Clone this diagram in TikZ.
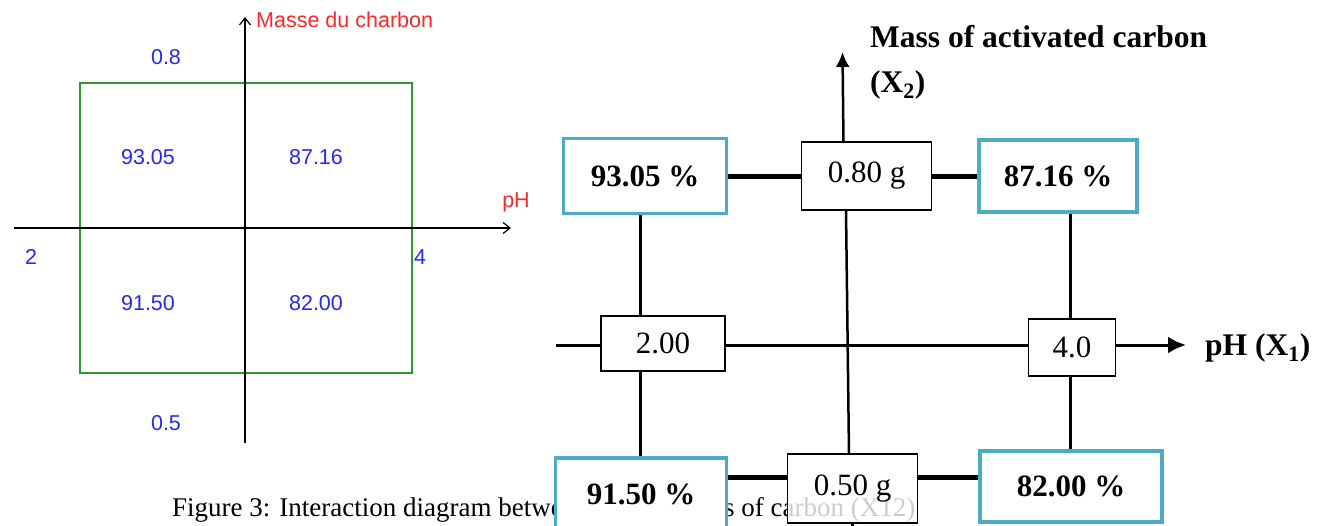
\documentclass[tikz,border=0pt]{standalone}
\usepackage{fontspec}
\setmainfont{Liberation Serif}
\newfontfamily\winsans{Liberation Sans}
\usepackage{tikz}
\usetikzlibrary{positioning}
\usetikzlibrary{arrows.meta}

\definecolor{plotblue}{RGB}{40,40,240}
\definecolor{plotred}{RGB}{250,40,40}
\definecolor{plotgreen}{RGB}{50,150,50}
\definecolor{boxcyan}{RGB}{75,172,198}

\tikzset{
  val/.style={font=\winsans\fontsize{21.5}{24}\selectfont, text=plotblue, inner sep=0pt},
  axname/.style={font=\winsans\fontsize{21.5}{24}\selectfont, text=plotred, inner sep=0pt},
  resp/.style={draw=boxcyan, line width=3.5pt, fill=white, inner sep=0pt,
    font=\bfseries\fontsize{31}{34}\selectfont},
  level/.style={draw=black, line width=1.2pt, fill=white, inner sep=0pt,
    font=\fontsize{31}{34}\selectfont},
  axlab/.style={anchor=west, inner sep=0pt, font=\bfseries\fontsize{31.5}{34}\selectfont},
  link/.style={line width=5pt},
  leg/.style={line width=3pt},
}

\begin{document}
\begin{tikzpicture}[x=1pt,y=-1pt]
	\clip (0,0) rectangle (1325,525);
	\fill[white] (0,0) rectangle (1325,525);

	% left: software plot
	\coordinate (hl) at (14,228);
	\coordinate (hr) at (511,228);
	\coordinate (vb) at (245,443);
	\coordinate (vt) at (245,17);
	\draw[plotgreen, line width=2pt] (79.5,83) rectangle (411.5,373);
	\draw[line width=2pt, -{Straight Barb[length=7pt,width=11pt,line width=1.2pt]}] (hl) -- (hr);
	\draw[line width=2pt, -{Straight Barb[length=7pt,width=11pt,line width=1.2pt]}] (vb) -- (vt);

	\node[axname, anchor=west] (massfr) at (256,20) {Masse du charbon};
	\node[axname] (phfr) at (516,202) {pH};
	\node[val] (mhigh) at (166,57) {0.8};
	\node[val] (mlow) at (166,423) {0.5};
	\node[val] (phlow) at (31,257) {2};
	\node[val] (phhigh) at (420,257) {4};
	\node[val] (r11) at (148,157) {93.05};
	\node[val] (r21) at (316,157) {87.16};
	\node[val] (r12) at (148,303) {91.50};
	\node[val] (r22) at (316,303) {82.00};

	% caption (partly hidden by the boxes)
	\node[anchor=base west, inner sep=0pt, font=\fontsize{27}{30}\selectfont] (cap) at (172,516)
		{Figure 3: Interaction diagram between pH and mass of carbon (X12)};

	% right: redrawn diagram
	\node[resp, minimum width=163pt, minimum height=75pt] (b93) at (645,176) {93.05 \%};
	\node[level, minimum width=130pt, minimum height=68pt] (b080) at (866.5,176) {0.80 g};
	\node[resp, minimum width=158pt, minimum height=72pt] (b87) at (1058,176) {87.16 \%};
	\node[level, minimum width=124pt, minimum height=55pt] (b200) at (663,343.5) {2.00};
	\node[level, minimum width=87pt, minimum height=57pt] (b40) at (1072,347.5) {4.0};
	\node[resp, minimum width=171pt, minimum height=72pt] (b915) at (641,494) {91.50 \%};
	\node[level, minimum width=130pt, minimum height=69pt, fill opacity=0.8, text opacity=1] (b050) at (852.5,488.5) {0.50 g};
	\node[resp, minimum width=182pt, minimum height=71pt] (b82) at (1071,486.5) {82.00 \%};

	\node[axlab] (ylab) at (870,37) {Mass of activated carbon};
	\node[axlab] (ylabx) at (870,85) {(X\textsubscript{2})};
	\node[axlab] (xlab) at (1205,348) {pH (X\textsubscript{1})};

	\coordinate (xstart) at (556,345);
	\coordinate (xend) at (1186,345);
	\coordinate (lowline) at (0,477);
	\coordinate (ybot) at (849,454);
	\coordinate (yup) at (846,210);
	\coordinate (yin) at (843.5,143);
	\coordinate (ytop) at (842.5,52);
	\coordinate (yfoot) at (852,535);

	\draw[leg] (xstart) -- (xstart -| b200.west);
	\draw[leg] (b200.east |- xstart) -- (b40.west |- xstart);
	\draw[leg, -{Latex[length=18pt,width=17pt]}] (b40.east |- xstart) -- (xend);
	\draw[line width=2.5pt] (ybot) -- (yup);
	\draw[line width=2.5pt, -{Latex[length=15pt,width=14pt]}] (yin) -- (ytop);
	\draw[line width=3pt] (yfoot |- b050.south) -- (yfoot);

	\draw[link] (b93.east) -- (b93.east -| b080.west);
	\draw[link] (b080.east) -- (b080.east -| b87.west);
	\draw[link] (b915.east |- lowline) -- (b050.west |- lowline);
	\draw[link] (b050.east |- lowline) -- (b82.west |- lowline);

	\draw[leg] ([xshift=-5pt]b93.south) -- ([xshift=-5pt]b93.south |- b200.north);
	\draw[leg] ([xshift=-5pt]b93.south |- b200.south) -- ([xshift=-5pt]b93.south |- b915.north);
	\draw[leg] ([xshift=12pt]b87.south) -- ([xshift=12pt]b87.south |- b40.north);
	\draw[leg] ([xshift=12pt]b87.south |- b40.south) -- ([xshift=12pt]b87.south |- b82.north);
\end{tikzpicture}
\end{document}
